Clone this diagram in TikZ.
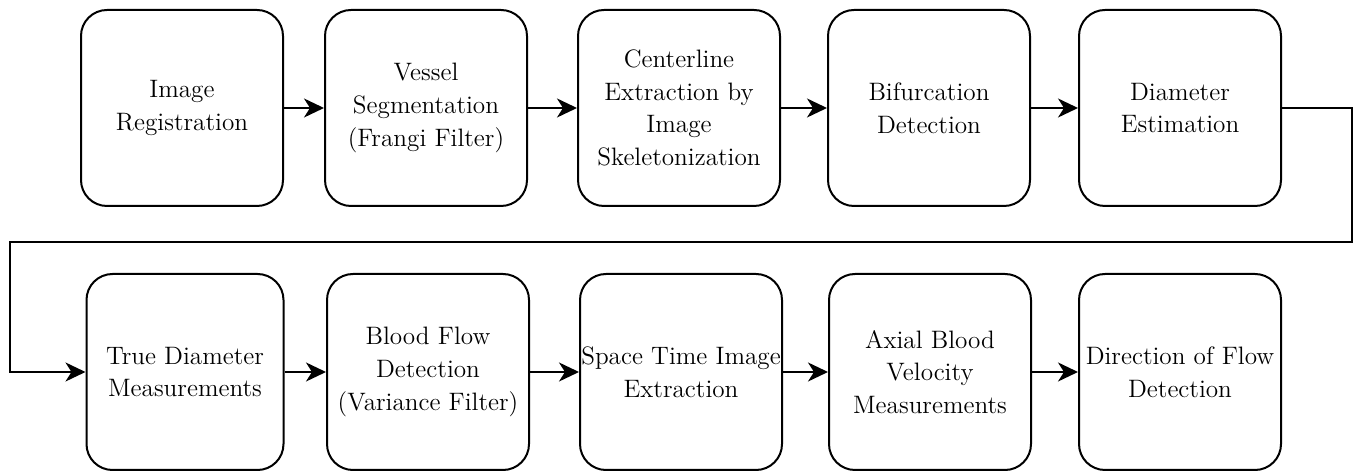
\documentclass[tikz,border=0pt]{standalone}
\usetikzlibrary{arrows.meta}
\begin{document}
\begin{tikzpicture}[x=0.5pt,y=-0.5pt,
  stage/.style={draw, line width=1pt, rounded corners=13pt, inner sep=0pt,
    minimum width=101pt, minimum height=98pt, align=center,
    font=\fontsize{12.6}{16.4}\selectfont},
  flow/.style={line width=1pt, -{Stealth[length=10pt,width=9.5pt,inset=3pt]}}]
\useasboundingbox (0,0) rectangle (1358,474);

% first row of processing stages
\node[stage] (reg)  at (182,108) {Image\\Registration};
\node[stage] (seg)  at (426,108) {Vessel\\Segmentation\\(Frangi Filter)};
\node[stage] (cen)  at (679,108) {Centerline\\Extraction by\\Image\\Skeletonization};
\node[stage] (bif)  at (929,108) {Bifurcation\\Detection};
\node[stage] (dia)  at (1180,108) {Diameter\\Estimation};

% second row of processing stages
\node[stage, minimum width=98.5pt] (tru) at (185,372) {True Diameter\\Measurements};
\node[stage] (blo)  at (428,372) {Blood Flow\\Detection\\(Variance Filter)};
\node[stage] (spt)  at (681,372) {Space Time Image\\Extraction};
\node[stage] (axi)  at (930,372) {Axial Blood\\Velocity\\Measurements};
\node[stage] (dir)  at (1180,372) {Direction of Flow\\Detection};

% arrows along each row
\draw[flow] (reg) -- (seg);
\draw[flow] (seg) -- (cen);
\draw[flow] (cen) -- (bif);
\draw[flow] (bif) -- (dia);
\draw[flow] (tru) -- (blo);
\draw[flow] (blo) -- (spt);
\draw[flow] (spt) -- (axi);
\draw[flow] (axi) -- (dir);

% wrap-around link from the end of the first row to the second row
\coordinate (wr) at (1352,242);
\coordinate (wl) at (10,242);
\draw[flow] (dia.east) -| (wr) -- (wl) |- (tru.west);
\end{tikzpicture}
\end{document}
